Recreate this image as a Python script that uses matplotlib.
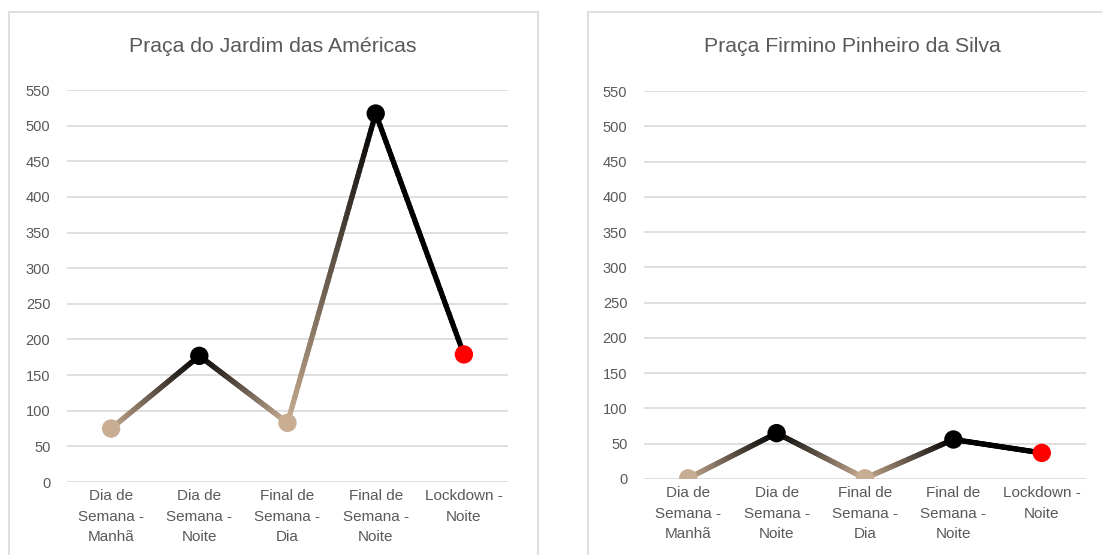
import matplotlib.pyplot as plt
import numpy as np
from matplotlib.collections import LineCollection
from matplotlib.colors import to_rgb
from matplotlib.patches import Rectangle

plt.rcParams['font.family'] = ['Liberation Sans', 'DejaVu Sans']

categorias = ['Dia de\nSemana -\nManhã', 'Dia de\nSemana -\nNoite', 'Final de\nSemana -\nDia',
              'Final de\nSemana -\nNoite', 'Lockdown -\nNoite']
jardim = [75, 177, 83, 517, 179]
firmino = [1, 65, 1, 56, 37]
titulos = ['Praça do Jardim das Américas', 'Praça Firmino Pinheiro da Silva']

tan = '#C8AD93'
cor_linha = [tan, 'black', tan, 'black', 'black']
cor_marcador = [tan, 'black', tan, 'black', '#FF0000']
cinza = '#595959'
grade = '#D9D9D9'

fig = plt.figure(figsize=(11.02, 5.55), dpi=100)

# molduras dos dois graficos
fig.patches.append(Rectangle((9/1102, -0.1), 529/1102, 1.1 - 12/555, transform=fig.transFigure,
                             fill=False, edgecolor='#D9D9D9', linewidth=1.2))
fig.patches.append(Rectangle((588/1102, -0.1), 0.6, 1.1 - 12/555, transform=fig.transFigure,
                             fill=False, edgecolor='#D9D9D9', linewidth=1.2))

posicoes = [[67/1102, 73/555, 441/1102, 392/555],
            [644/1102, 76/555, 442/1102, 388/555]]
centros_titulo = [273/1102, 852/1102]

for pos, valores, titulo, cx in zip(posicoes, [jardim, firmino], titulos, centros_titulo):
    ax = fig.add_axes(pos)
    x = np.arange(len(valores))
    # linha com degrade entre os pontos
    for i in range(len(valores) - 1):
        t = np.linspace(0, 1, 60)
        xs = x[i] + t * (x[i+1] - x[i])
        ys = valores[i] + t * (valores[i+1] - valores[i])
        pts = np.column_stack([xs, ys]).reshape(-1, 1, 2)
        segs = np.concatenate([pts[:-1], pts[1:]], axis=1)
        c0 = np.array(to_rgb(cor_linha[i]))
        c1 = np.array(to_rgb(cor_linha[i+1]))
        tm = (t[:-1] + t[1:]) / 2
        cores = c0 + (c1 - c0) * tm[:, None]
        lc = LineCollection(segs, colors=cores, linewidths=3.8, capstyle='round', zorder=2)
        ax.add_collection(lc)
    ax.scatter(x, valores, s=175, c=cor_marcador, zorder=3, linewidths=0)

    ax.set_xlim(-0.5, len(valores) - 0.5)
    ax.set_ylim(0, 550)
    ax.set_yticks(np.arange(0, 551, 50))
    ax.set_xticks(x)
    ax.set_xticklabels(categorias, linespacing=1.6, fontsize=11)
    ax.grid(axis='y', color=grade, linewidth=1.2, zorder=0)
    ax.set_axisbelow(True)
    for s in ax.spines.values():
        s.set_visible(False)
    ax.tick_params(axis='both', length=0, colors=cinza)
    ax.tick_params(axis='y', pad=12, labelsize=10.5)
    ax.tick_params(axis='x', pad=5)
    fig.text(cx, 1 - 46/555, titulo, ha='center', va='center', fontsize=15.3, color=cinza)

fig.savefig('out.png', dpi=100)
